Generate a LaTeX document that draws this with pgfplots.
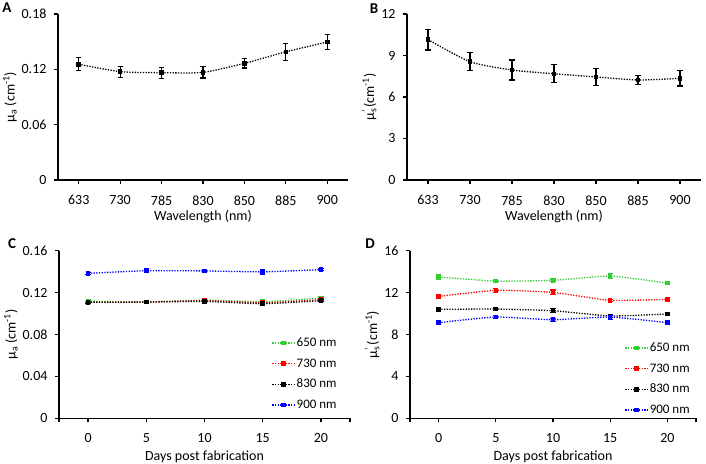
\documentclass[border=0pt]{standalone}
\usepackage{fontspec}
\setmainfont{Carlito}
\usepackage{pgfplots}
\pgfplotsset{compat=1.18}
\definecolor{lgreen}{RGB}{51,204,51}
\definecolor{bred}{RGB}{255,0,0}
\definecolor{bblue}{RGB}{0,0,255}
\pgfplotsset{
  myax/.style={
    scale only axis,
    axis x line*=bottom, axis y line*=left,
    axis line style={-, line width=1.4pt, black},
    tick align=outside, major tick length=4pt,
    tick style={line width=1.2pt, black},
    /pgf/number format/assume math mode=true,
    tick label style={font=\fontsize{14}{16}\selectfont},
    xticklabel style={yshift=-10.3pt, inner ysep=1pt},
    yticklabel style={xshift=-4pt},
    label style={font=\fontsize{14}{16}\selectfont},
    xlabel style={yshift=-2.7pt, inner ysep=1pt},
    ylabel style={yshift=-2pt},
    scaled y ticks=false,
    clip=false,
  },
  ser/.style={line width=1.3pt, dash pattern=on 1.3pt off 1.4pt, mark=square*, mark size=1.6pt,
    mark options={solid},
    error bars/y dir=both, error bars/y explicit,
    error bars/error bar style={line width=1.2pt, solid},
    error bars/error mark options={rotate=90, mark size=2.6pt, line width=1.2pt}},
  legend image code/.code={\draw[mark repeat=2,mark phase=2,#1] plot coordinates {(0cm,0cm) (0.4cm,0cm) (0.8cm,0cm)};},
  leg/.style={legend style={draw=none, fill=none, at={#1}, anchor=north west, inner xsep=0pt,
    nodes={inner xsep=1pt},
    font=\fontsize{13}{15}\selectfont, row sep=6.5pt}, legend cell align=left},
}
\begin{document}
\begin{tikzpicture}
\useasboundingbox (0,0) rectangle (706pt,-463pt);
% Panel A
\begin{axis}[myax, at={(58pt,-180pt)}, anchor=south west, width=290pt, height=166pt,
  xmin=-0.5, xmax=6.5, ymin=0, ymax=0.18,
  xtick={0,...,6}, xticklabels={633,730,785,830,850,885,900},
  ytick={0,0.06,0.12,0.18}, yticklabels={0,0.06,0.12,0.18},
  xlabel={Wavelength (nm)}, ylabel={µ\textsubscript{a} (cm\textsuperscript{-1})}]
\addplot[ser, black, smooth, tension=0.4] coordinates {
 (0,0.1255) +- (0,0.007)
 (1,0.1175) +- (0,0.006)
 (2,0.1164) +- (0,0.006)
 (3,0.1167) +- (0,0.006)
 (4,0.1265) +- (0,0.005)
 (5,0.1390) +- (0,0.009)
 (6,0.1496) +- (0,0.008)
};
\end{axis}
% Panel B
\begin{axis}[myax, at={(407pt,-180pt)}, anchor=south west, width=294pt, height=166pt,
  xmin=-0.5, xmax=6.5, ymin=0, ymax=12,
  xtick={0,...,6}, xticklabels={633,730,785,830,850,885,900},
  ytick={0,3,6,9,12},
  xlabel={Wavelength (nm)}, ylabel={µ\rlap{\textsubscript{s}}\textsuperscript{'}\,(cm\textsuperscript{-1})}]
\addplot[ser, black, smooth, tension=0.4] coordinates {
 (0,10.15) +- (0,0.75)
 (1,8.55) +- (0,0.65)
 (2,7.95) +- (0,0.72)
 (3,7.68) +- (0,0.65)
 (4,7.45) +- (0,0.6)
 (5,7.23) +- (0,0.3)
 (6,7.35) +- (0,0.55)
};
\end{axis}
% Panel C
\begin{axis}[myax, at={(59pt,-418.3pt)}, anchor=south west, width=291pt, height=167.6pt,
  xmin=-2.5, xmax=22.5, ymin=0, ymax=0.16,
  xtick={0,5,10,15,20}, extra x ticks={-2.5,22.5}, extra x tick labels={},
  ytick={0,0.04,0.08,0.12,0.16}, yticklabels={0,0.04,0.08,0.12,0.16},
  xlabel={Days post fabrication}, ylabel={µ\textsubscript{a} (cm\textsuperscript{-1})},
  xlabel style={yshift=5.3pt},
  leg={(0.73,0.505)}]
\addplot[ser, lgreen, smooth, tension=0.3] coordinates {
 (0,0.1120) +- (0,0.001) (5,0.1110) +- (0,0.001) (10,0.1129) +- (0,0.001) (15,0.1113) +- (0,0.001) (20,0.1148) +- (0,0.001)};
\addlegendentry{650 nm}
\addplot[ser, bred, smooth, tension=0.3] coordinates {
 (0,0.1107) +- (0,0.001) (5,0.1110) +- (0,0.001) (10,0.1123) +- (0,0.001) (15,0.1104) +- (0,0.001) (20,0.1132) +- (0,0.001)};
\addlegendentry{730 nm}
\addplot[ser, black, smooth, tension=0.3] coordinates {
 (0,0.1107) +- (0,0.001) (5,0.1110) +- (0,0.001) (10,0.1116) +- (0,0.001) (15,0.1094) +- (0,0.001) (20,0.1123) +- (0,0.001)};
\addlegendentry{830 nm}
\addplot[ser, bblue, smooth, tension=0.3] coordinates {
 (0,0.1384) +- (0,0.001) (5,0.1409) +- (0,0.0018) (10,0.1407) +- (0,0.0015) (15,0.1398) +- (0,0.002) (20,0.1419) +- (0,0.001)};
\addlegendentry{900 nm}
\end{axis}
% Panel D
\begin{axis}[myax, at={(410pt,-418.3pt)}, anchor=south west, width=286pt, height=167.6pt,
  xmin=-2.5, xmax=22.5, ymin=0, ymax=16,
  xtick={0,5,10,15,20}, extra x ticks={-2.5,22.5}, extra x tick labels={},
  ytick={0,4,8,12,16},
  xlabel={Days post fabrication}, ylabel={µ\rlap{\textsubscript{s}}\textsuperscript{'}\,(cm\textsuperscript{-1})},
  xlabel style={yshift=5.3pt},
  leg={(0.75,0.475)}]
\addplot[ser, lgreen, smooth, tension=0.3] coordinates {
 (0,13.49) +- (0,0.25) (5,13.10) +- (0,0.1) (10,13.17) +- (0,0.12) (15,13.58) +- (0,0.25) (20,12.91) +- (0,0.1)};
\addlegendentry{650 nm}
\addplot[ser, bred, smooth, tension=0.3] coordinates {
 (0,11.64) +- (0,0.1) (5,12.21) +- (0,0.2) (10,12.02) +- (0,0.22) (15,11.26) +- (0,0.1) (20,11.36) +- (0,0.12)};
\addlegendentry{730 nm}
\addplot[ser, black, smooth, tension=0.3] coordinates {
 (0,10.40) +- (0,0.1) (5,10.43) +- (0,0.1) (10,10.27) +- (0,0.2) (15,9.77) +- (0,0.15) (20,9.96) +- (0,0.1)};
\addlegendentry{830 nm}
\addplot[ser, bblue, smooth, tension=0.3] coordinates {
 (0,9.13) +- (0,0.1) (5,9.67) +- (0,0.18) (10,9.41) +- (0,0.15) (15,9.67) +- (0,0.2) (20,9.13) +- (0,0.1)};
\addlegendentry{900 nm}
\end{axis}
\node[font=\bfseries\fontsize{15}{17}\selectfont] at (7pt,-8pt) {A};
\node[font=\bfseries\fontsize{15}{17}\selectfont] at (374pt,-9pt) {B};
\node[font=\bfseries\fontsize{15}{17}\selectfont] at (12pt,-244pt) {C};
\node[font=\bfseries\fontsize{15}{17}\selectfont] at (370pt,-244pt) {D};
\end{tikzpicture}
\end{document}
